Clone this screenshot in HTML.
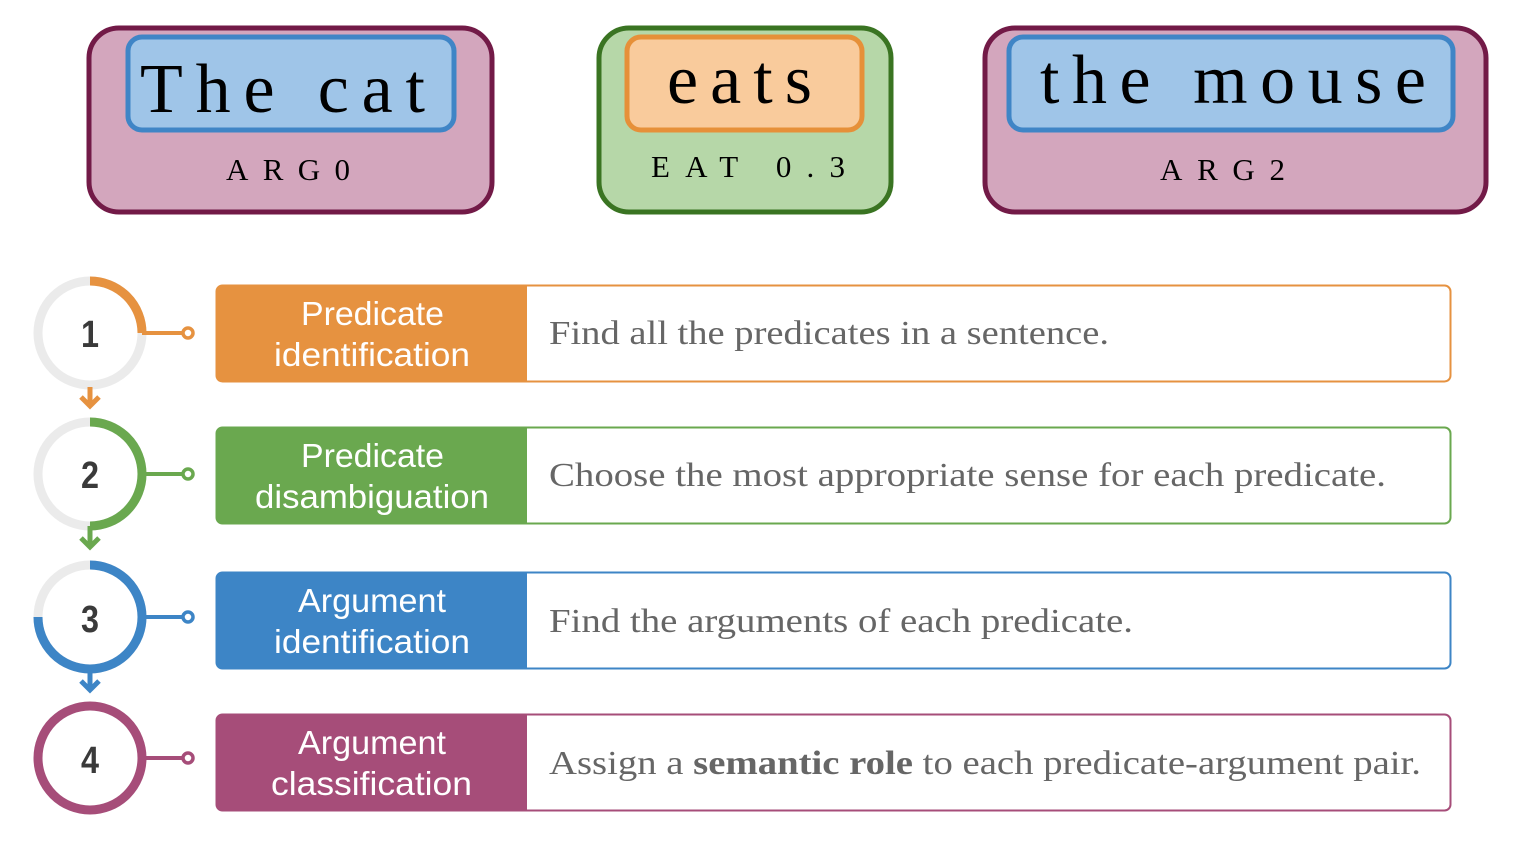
<!DOCTYPE html>
<html><head><meta charset="utf-8"><style>
html,body{margin:0;padding:0;background:#fff;}
svg{display:block}
.big{font-family:"Liberation Serif",serif;font-size:70px;fill:#000}
.lab{font-family:"Liberation Serif",serif;font-size:31px;fill:#000}
.w{font-family:"Liberation Sans",sans-serif;font-size:33px;fill:#fff}
.d{font-family:"Liberation Serif",serif;font-size:34px;fill:#666}
.n{font-family:"Liberation Sans",sans-serif;font-size:38px;font-weight:bold;fill:#3a3a3a;text-anchor:middle}
</style></head><body>
<svg width="1530" height="842" viewBox="0 0 1530 842" xmlns="http://www.w3.org/2000/svg">
<rect x="89" y="28" width="403" height="184" rx="30" fill="#d3a6bd" stroke="#721a47" stroke-width="5"/>
<rect x="128" y="37" width="326" height="93" rx="14" fill="#9fc5e8" stroke="#3f85c6" stroke-width="5"/>
<text class="big" x="140" y="112" textLength="285" lengthAdjust="spacing">The cat</text>
<text class="lab" x="226" y="180" textLength="124" lengthAdjust="spacing">ARG0</text>

<rect x="599" y="28" width="292" height="184" rx="30" fill="#b6d7a8" stroke="#3a7422" stroke-width="5"/>
<rect x="627" y="37" width="235" height="93" rx="14" fill="#f9cb9c" stroke="#e69039" stroke-width="5"/>
<text class="big" x="667" y="103" textLength="145" lengthAdjust="spacing">eats</text>
<text class="lab" x="651" y="177" textLength="194" lengthAdjust="spacing">EAT 0.3</text>

<rect x="985" y="28" width="501" height="184" rx="30" fill="#d3a6bd" stroke="#721a47" stroke-width="5"/>
<rect x="1009" y="37" width="444" height="93" rx="14" fill="#9fc5e8" stroke="#3f85c6" stroke-width="5"/>
<text class="big" x="1040" y="103" textLength="386" lengthAdjust="spacing">the mouse</text>
<text class="lab" x="1160" y="180" textLength="125" lengthAdjust="spacing">ARG2</text>

<g>
<rect x="216.5" y="285.5" width="1234" height="96" rx="6" fill="#fff" stroke="#e69240" stroke-width="2"/>
<path d="M222 285 H527 V382 H222 a6 6 0 0 1 -6 -6 V291 a6 6 0 0 1 6 -6z" fill="#e69240"/>
<text class="w" x="301" y="325" textLength="143" lengthAdjust="spacingAndGlyphs">Predicate</text><text class="w" x="274" y="366" textLength="196" lengthAdjust="spacingAndGlyphs">identification</text>
<text class="d" x="549" y="344" textLength="560" lengthAdjust="spacingAndGlyphs">Find all the predicates in a sentence.</text>

<rect x="216.5" y="427.5" width="1234" height="96" rx="6" fill="#fff" stroke="#6aa84f" stroke-width="2"/>
<path d="M222 427 H527 V524 H222 a6 6 0 0 1 -6 -6 V433 a6 6 0 0 1 6 -6z" fill="#6aa84f"/>
<text class="w" x="301" y="467" textLength="143" lengthAdjust="spacingAndGlyphs">Predicate</text><text class="w" x="255" y="508" textLength="234" lengthAdjust="spacingAndGlyphs">disambiguation</text>
<text class="d" x="549" y="486" textLength="837" lengthAdjust="spacingAndGlyphs">Choose the most appropriate sense for each predicate.</text>

<rect x="216.5" y="572.5" width="1234" height="96" rx="6" fill="#fff" stroke="#3d85c6" stroke-width="2"/>
<path d="M222 572 H527 V669 H222 a6 6 0 0 1 -6 -6 V578 a6 6 0 0 1 6 -6z" fill="#3d85c6"/>
<text class="w" x="298" y="612" textLength="148" lengthAdjust="spacingAndGlyphs">Argument</text><text class="w" x="274" y="653" textLength="196" lengthAdjust="spacingAndGlyphs">identification</text>
<text class="d" x="549" y="632" textLength="584" lengthAdjust="spacingAndGlyphs">Find the arguments of each predicate.</text>

<rect x="216.5" y="714.5" width="1234" height="96" rx="6" fill="#fff" stroke="#a64d79" stroke-width="2"/>
<path d="M222 714 H527 V811 H222 a6 6 0 0 1 -6 -6 V720 a6 6 0 0 1 6 -6z" fill="#a64d79"/>
<text class="w" x="298" y="754" textLength="148" lengthAdjust="spacingAndGlyphs">Argument</text><text class="w" x="271" y="795" textLength="201" lengthAdjust="spacingAndGlyphs">classification</text>
<text class="d" x="549" y="774" textLength="872" lengthAdjust="spacingAndGlyphs">Assign a <tspan font-weight="bold">semantic role</tspan> to each predicate-argument pair.</text>
</g>

<g fill="none" stroke-width="9">
<circle cx="90" cy="333" r="52" stroke="#ebebeb"/>
<path d="M90 281 A52 52 0 0 1 142 333" stroke="#e69240"/>
<line x1="142" y1="333" x2="183" y2="333" stroke="#e69240" stroke-width="4"/>
<circle cx="188" cy="333" r="5" stroke="#e69240" stroke-width="3.5"/>
<path d="M90 387 V406 M81 397 L90 406 L99 397" stroke="#e69240" stroke-width="5"/>

<circle cx="90" cy="474" r="52" stroke="#ebebeb"/>
<path d="M90 422 A52 52 0 0 1 90 526" stroke="#6aa84f"/>
<line x1="142" y1="474" x2="183" y2="474" stroke="#6aa84f" stroke-width="4"/>
<circle cx="188" cy="474" r="5" stroke="#6aa84f" stroke-width="3.5"/>
<path d="M90 526 V547 M81 538 L90 547 L99 538" stroke="#6aa84f" stroke-width="5"/>

<circle cx="90" cy="617" r="52" stroke="#ebebeb"/>
<path d="M90 565 A52 52 0 1 1 38 617" stroke="#3d85c6"/>
<line x1="142" y1="617" x2="183" y2="617" stroke="#3d85c6" stroke-width="4"/>
<circle cx="188" cy="617" r="5" stroke="#3d85c6" stroke-width="3.5"/>
<path d="M90 669 V690 M81 681 L90 690 L99 681" stroke="#3d85c6" stroke-width="5"/>

<circle cx="90" cy="758" r="52" stroke="#a64d79"/>
<line x1="142" y1="758" x2="183" y2="758" stroke="#a64d79" stroke-width="4"/>
<circle cx="188" cy="758" r="5" stroke="#a64d79" stroke-width="3.5"/>
</g>
<text class="n" x="90" y="347" textLength="18" lengthAdjust="spacingAndGlyphs">1</text>
<text class="n" x="90" y="488" textLength="18" lengthAdjust="spacingAndGlyphs">2</text>
<text class="n" x="90" y="632" textLength="18" lengthAdjust="spacingAndGlyphs">3</text>
<text class="n" x="90" y="773" textLength="18" lengthAdjust="spacingAndGlyphs">4</text>
</svg>
</body></html>
